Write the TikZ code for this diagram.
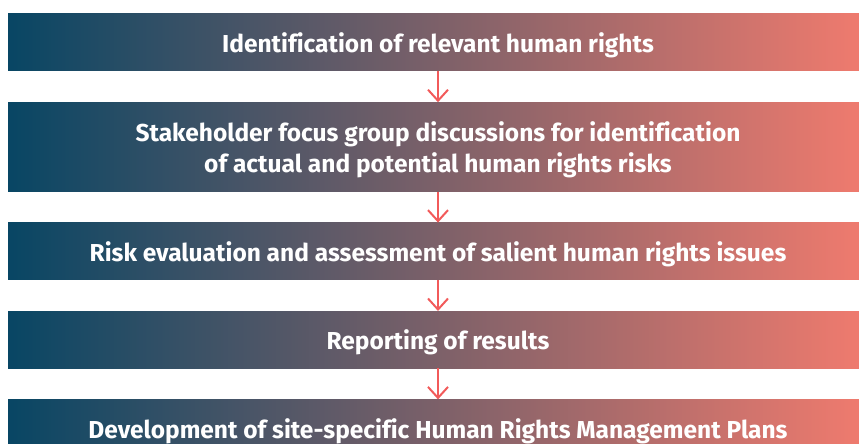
\documentclass[tikz,border=0pt]{standalone}
\usepackage{fontspec}
\setmainfont{Fira Sans}[Ligatures=NoCommon]
\usepackage{xcolor}
\usetikzlibrary{arrows.meta,positioning}

\definecolor{stepblue}{RGB}{8,70,100}
\definecolor{stepcoral}{RGB}{241,123,110}
\definecolor{arrowred}{RGB}{242,90,90}

\begin{document}
\begin{tikzpicture}[node distance=31pt,
  stage/.style={rectangle,inner sep=0pt,minimum width=860pt,minimum height=57pt,
    text depth=0pt,left color=stepblue,right color=stepcoral,text=white,align=center,
    font=\fontsize{24.5}{31}\selectfont\bfseries},
  flow/.style={draw=arrowred,line width=2pt,-{Straight Barb[length=11pt,width=20pt,line width=2pt]}}]
  \useasboundingbox (0,0) rectangle (859pt,-444pt);

  % Nodes
  \node[stage] (ident) at (438pt,-42.5pt) {Identification of relevant human rights};
  \node[stage,minimum height=89pt] (focus) [below=of ident] {Stakeholder focus group discussions for identification\\of actual and potential human rights risks};
  \node[stage] (risk) [below=of focus] {Risk evaluation and assessment of salient human rights issues};
  \node[stage] (report) [below=of risk] {Reporting of results};
  \node[stage] (plans) [below=of report] {Development of site-specific Human Rights Management Plans};

  % Arrows
  \draw[flow] (ident) -- (focus);
  \draw[flow] (focus) -- (risk);
  \draw[flow] (risk) -- (report);
  \draw[flow] (report) -- (plans);
\end{tikzpicture}
\end{document}
